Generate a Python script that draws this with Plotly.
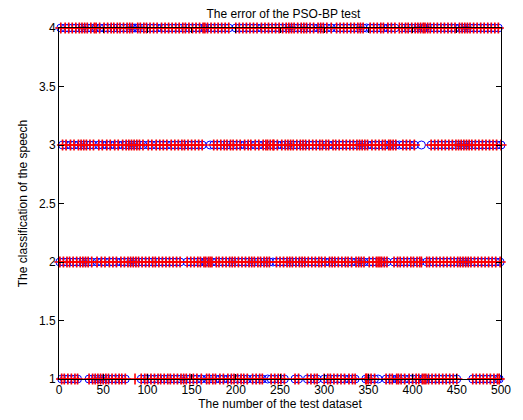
import plotly.graph_objects as go

# actual class of each test sample 1..500
actual_rows = [
    "2413214321" "4231423142" "1342342342" "3421342134" "1421341231",
    "4213412341" "2431243142" "1342134234" "2342342342" "3412341241",
    "3241324123" "4123142314" "2314213421" "3421342134" "1341234123",
    "4123412342" "1342421421" "3421341234" "2134213423" "1423123124",
    "3124312413" "2413243214" "2314231241" "3243214231" "4231423142",
    "1342134234" "2342341234" "1234234234" "1234123412" "3142342341",
    "2341321423" "1234123412" "3412342134" "2134123423" "4234231431",
    "2413241324" "1324234231" "2431341324" "3121321432" "1432413241",
    "2341241243" "1414124124" "3124312431" "2431243124" "3124312431",
    "2342342342" "3423423142" "3142314231" "4231423142" "3142314123",
]
# samples whose predicted class differs from the actual class
wrong_index = [86, 171, 236, 242, 348, 361, 385, 410]
wrong_pred = [1, 2, 3, 3, 1, 2, 4, 2]

sample = list(range(1, 501))
actual = [int(c) for c in "".join(actual_rows)]
predicted = list(actual)
for i, p in zip(wrong_index, wrong_pred):
    predicted[i - 1] = p

x_ticks = [0, 50, 100, 150, 200, 250, 300, 350, 400, 450, 500]
y_ticks = [1, 1.5, 2, 2.5, 3, 3.5, 4]

font = dict(family="Liberation Sans, Arial, sans-serif", size=12, color="black")

fig = go.Figure()
fig.add_trace(go.Scatter(
    x=sample, y=actual, mode="markers", cliponaxis=False, name="actual",
    marker=dict(symbol="circle-open", size=8, color="rgb(0,0,255)",
                line=dict(width=1, color="rgb(0,0,255)")),
))
fig.add_trace(go.Scatter(
    x=sample, y=predicted, mode="markers", cliponaxis=False, name="predicted",
    marker=dict(symbol="cross-thin-open", size=8, color="rgb(255,0,0)",
                line=dict(width=1.6, color="rgb(255,0,0)")),
))

fig.update_layout(
    width=523, height=420,
    margin=dict(l=59, r=12, t=28, b=37),
    paper_bgcolor="white", plot_bgcolor="white",
    showlegend=False, font=font,
    title=dict(text="The error of the PSO-BP test", x=0.542, xanchor="center",
               y=0.968, yanchor="middle", font=dict(size=12, color="black")),
)
fig.update_xaxes(
    range=[0, 500], tickvals=x_ticks, ticktext=[str(v) for v in x_ticks],
    ticks="inside", ticklen=5, tickcolor="black", showgrid=False, zeroline=False,
    showline=True, linecolor="black", linewidth=1, mirror="ticks",
    title=dict(text="The number of the test dataset", standoff=2, font=font),
    tickfont=font,
)
fig.update_yaxes(
    range=[1, 4], tickvals=y_ticks, ticktext=["1", "1.5", "2", "2.5", "3", "3.5", "4"],
    ticks="inside", ticklen=5, tickcolor="black", showgrid=False, zeroline=False,
    showline=True, linecolor="black", linewidth=1, mirror="ticks",
    title=dict(text="The classification of the speech", standoff=8, font=font),
    tickfont=font,
)

fig.write_html("out.html")
